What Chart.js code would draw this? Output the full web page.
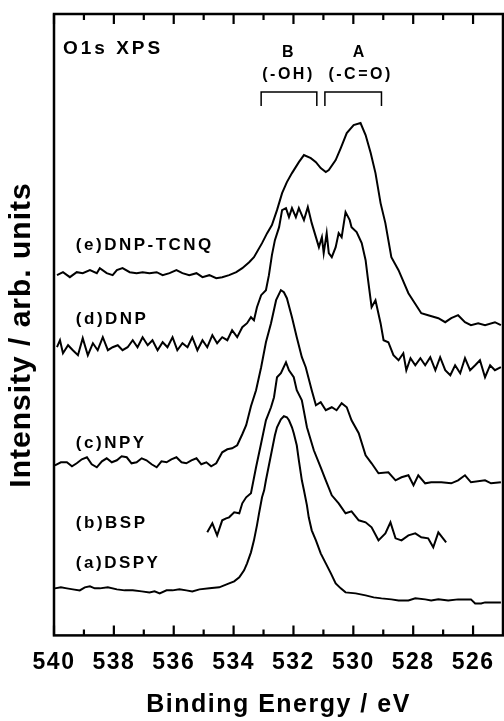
<!DOCTYPE html>
<html><head><meta charset="utf-8">
<script src="https://cdn.jsdelivr.net/npm/chart.js@4.4.0/dist/chart.umd.min.js"></script>
<style>html,body{margin:0;padding:0;background:#fff}canvas{display:block}</style>
</head><body>
<canvas id="c" width="504" height="721"></canvas>
<script>
// ---- data (binding energy in eV, intensity in arbitrary units) ----
const eE = [539.90,539.70,539.47,539.24,539.04,538.80,538.57,538.47,538.24,538.04,537.90,537.71,537.47,537.24,537.04,536.81,536.57,536.37,536.14,535.91,535.71,535.48,535.24,535.04,534.81,534.58,534.38,534.15,533.91,533.71,533.48,533.32,533.05,532.88,532.72,532.55,532.38,532.22,532.05,531.82,531.65,531.42,531.25,531.09,530.92,530.82,530.59,530.42,530.22,529.99,529.76,529.59,529.42,529.26,529.09,528.93,528.73,528.49,528.16,527.73,527.50,527.16,526.93,526.73,526.50,526.27,526.07,525.83,525.60,525.27,525.07];
const iE = [360,363,358,363,362,365,362,367,362,360,365,367,363,362,363,362,363,360,362,365,362,360,362,358,360,357,358,360,363,367,373,378,392,402,410,425,442,453,462,473,480,477,473,467,463,465,475,487,502,510,512,500,482,462,432,412,378,365,342,322,320,317,313,317,320,313,310,312,310,313,310];

const eD = [539.90,539.80,539.70,539.53,539.37,539.20,539.04,538.87,538.70,538.54,538.37,538.20,538.04,537.87,537.71,537.54,537.37,537.21,537.04,536.87,536.71,536.54,536.37,536.21,536.04,535.88,535.71,535.54,535.38,535.21,535.04,534.88,534.71,534.55,534.38,534.21,534.05,533.88,533.71,533.55,533.42,533.32,533.22,533.08,532.92,532.82,532.72,532.62,532.48,532.38,532.25,532.15,532.05,531.92,531.82,531.65,531.52,531.39,531.25,531.15,531.05,530.99,530.89,530.82,530.72,530.59,530.49,530.39,530.26,530.12,530.06,529.89,529.72,529.59,529.52,529.39,529.26,529.09,528.99,528.83,528.66,528.49,528.33,528.23,528.09,527.93,527.76,527.60,527.43,527.26,527.10,526.93,526.76,526.60,526.43,526.27,526.10,525.93,525.77,525.60,525.43,525.27,525.07];
const iD = [288,295,282,290,285,280,297,280,292,285,298,285,288,290,285,288,295,288,298,290,295,285,293,288,298,285,292,288,298,285,295,288,300,292,298,295,305,298,308,312,318,315,328,340,345,360,380,395,408,425,427,418,427,418,427,415,428,412,398,388,398,382,402,382,378,388,402,398,423,415,408,403,392,375,358,328,335,312,295,293,280,275,282,265,277,270,277,270,278,265,278,265,260,270,262,277,265,270,275,258,270,265,268];

const eC = [539.97,539.77,539.57,539.40,539.24,539.07,538.90,538.74,538.57,538.40,538.24,538.07,537.90,537.74,537.57,537.41,537.24,537.07,536.91,536.74,536.57,536.41,536.24,536.08,535.91,535.74,535.58,535.41,535.24,535.08,534.91,534.75,534.58,534.38,534.21,534.05,533.88,533.71,533.58,533.42,533.25,533.08,532.92,532.75,532.58,532.42,532.32,532.22,532.05,531.89,531.72,531.59,531.39,531.25,531.09,530.92,530.72,530.56,530.39,530.22,530.06,529.82,529.59,529.39,529.16,528.83,528.59,528.39,528.16,527.99,527.83,527.60,527.40,527.06,526.73,526.50,526.27,526.07,525.60,525.40,525.07];
const iC = [170,173,173,169,172,176,178,171,168,174,177,173,175,179,178,172,173,177,175,171,168,174,173,176,178,173,172,175,177,171,173,169,172,183,186,187,190,201,210,229,245,268,293,312,335,345,343,337,318,298,278,268,245,230,233,225,228,225,232,228,215,202,180,172,162,163,155,158,160,150,160,152,153,153,152,155,160,153,155,152,153];

const eB = [534.88,534.71,534.55,534.38,534.25,534.15,533.98,533.81,533.71,533.58,533.42,533.25,533.08,532.92,532.75,532.65,532.55,532.42,532.25,532.15,531.99,531.89,531.72,531.55,531.32,531.09,530.92,530.72,530.49,530.26,530.06,529.82,529.59,529.39,529.16,528.93,528.76,528.59,528.39,528.16,527.93,527.73,527.50,527.33,527.16,527.03,526.90];
const iB = [103,112,100,115,117,118,123,122,132,138,142,168,192,215,228,238,258,262,273,265,258,245,235,208,185,168,155,140,132,122,124,115,113,108,95,102,113,97,95,100,102,98,97,88,103,98,93];

const eA = [539.97,539.77,539.57,539.37,539.14,538.97,538.80,538.64,538.47,538.20,537.90,537.64,537.37,537.07,536.81,536.64,536.47,536.24,536.04,535.81,535.58,535.38,535.14,534.81,534.48,534.15,533.98,533.81,533.65,533.55,533.42,533.32,533.22,533.15,533.05,532.98,532.92,532.82,532.72,532.62,532.55,532.42,532.32,532.22,532.15,532.05,531.99,531.89,531.82,531.72,531.65,531.55,531.49,531.39,531.25,531.09,530.92,530.75,530.59,530.42,530.26,529.92,529.59,529.32,529.06,528.73,528.49,528.16,527.93,527.60,527.40,527.16,526.83,526.50,526.27,526.07,525.93,525.73,525.60,525.40,525.07];
const iA = [47,48,47,46,45,48,49,47,47,48,46,45,45,44,43,44,42,45,45,46,45,44,46,47,48,52,54,58,65,72,83,95,110,122,138,145,155,170,185,200,208,216,219,218,215,208,202,190,175,155,145,130,118,105,95,82,72,62,52,47,43,42,40,38,37,36,35,35,37,36,35,36,35,36,36,36,32,32,33,33,33];

const seriesNames = ['(e)DNP-TCNQ','(d)DNP','(c)NPY','(b)BSP','(a)DSPY'];
const majorTicks = [526,528,530,532,534,536,538,540];
const minorTicks = [527,529,531,533,535,537,539];

// ---- annotation texts (positions in data units) ----
const seriesLabels = [
  {t:'(e)DNP-TCNQ', x:539.27, y:390},
  {t:'(d)DNP', x:539.27, y:316},
  {t:'(c)NPY', x:539.27, y:192},
  {t:'(b)BSP', x:539.27, y:112},
  {t:'(a)DSPY', x:539.27, y:72}
];
const peakLabels = [
  {t:'B', x:532.18, y:582}, {t:'(-OH)', x:532.20, y:560},
  {t:'A', x:529.82, y:582}, {t:'(-C=O)', x:529.79, y:560}
];
const brackets = [[533.08,531.22],[530.95,529.06]];

const FONT = "'Liberation Sans', Arial, Helvetica, sans-serif";
const mk = (xs, ys) => xs.map((v, i) => ({x: v, y: ys[i]}));
const allX = [eE, eD, eC, eB, eA];
const allY = [iE, iD, iC, iB, iA];

const deco = {
  id: 'deco',
  beforeDraw(chart) { chart.ctx.letterSpacing = '1.5px'; },
  afterDraw(chart) {
    const {ctx, chartArea: a, scales: {x, y}} = chart;
    ctx.save();
    ctx.strokeStyle = '#000';
    ctx.fillStyle = '#000';
    ctx.lineWidth = 2.5;
    ctx.strokeRect(a.left, a.top, a.right - a.left, a.bottom - a.top);
    ctx.lineWidth = 2.2;
    ctx.beginPath();
    for (const v of majorTicks) {
      const px = x.getPixelForValue(v);
      ctx.moveTo(px, a.bottom); ctx.lineTo(px, a.bottom - 10);
      ctx.moveTo(px, a.top); ctx.lineTo(px, a.top + 10);
    }
    for (const v of minorTicks) {
      const px = x.getPixelForValue(v);
      ctx.moveTo(px, a.bottom); ctx.lineTo(px, a.bottom - 6);
      ctx.moveTo(px, a.top); ctx.lineTo(px, a.top + 6);
    }
    ctx.stroke();

    // brackets
    ctx.lineWidth = 1.5;
    ctx.beginPath();
    for (const [e1, e2] of brackets) {
      const x1 = x.getPixelForValue(e1), x2 = x.getPixelForValue(e2);
      const yt = y.getPixelForValue(543), yb = y.getPixelForValue(529);
      ctx.moveTo(x1, yb); ctx.lineTo(x1, yt); ctx.lineTo(x2, yt); ctx.lineTo(x2, yb);
    }
    ctx.stroke();

    ctx.textBaseline = 'middle';
    // panel title
    ctx.font = 'bold 19px ' + FONT;
    ctx.letterSpacing = '3px';
    ctx.textAlign = 'left';
    ctx.fillText('O1s XPS', x.getPixelForValue(539.7), y.getPixelForValue(586));

    // peak labels
    ctx.font = 'bold 16px ' + FONT;
    ctx.letterSpacing = '2.5px';
    ctx.textAlign = 'center';
    for (const p of peakLabels) ctx.fillText(p.t, x.getPixelForValue(p.x) + 1, y.getPixelForValue(p.y));

    // series labels
    ctx.font = 'bold 17px ' + FONT;
    ctx.letterSpacing = '2.5px';
    ctx.textAlign = 'left';
    for (const s of seriesLabels) ctx.fillText(s.t, x.getPixelForValue(s.x), y.getPixelForValue(s.y));

    // y axis title
    ctx.font = 'bold 30px ' + FONT;
    ctx.letterSpacing = '1px';
    ctx.textAlign = 'center';
    ctx.translate(22, 335);
    ctx.rotate(-Math.PI / 2);
    ctx.fillText('Intensity / arb. units', 0, 0);
    ctx.restore();
  }
};

new Chart(document.getElementById('c'), {
  type: 'line',
  data: {
    datasets: seriesNames.map((n, i) => ({
      label: n,
      data: mk(allX[i], allY[i]),
      borderColor: '#000',
      borderWidth: 2,
      pointRadius: 0,
      tension: 0,
      fill: false
    }))
  },
  options: {
    responsive: false,
    animation: false,
    devicePixelRatio: 1,
    layout: {padding: {left: 54, right: 1, top: 14, bottom: 0}},
    plugins: {legend: {display: false}, tooltip: {enabled: false}},
    scales: {
      x: {
        type: 'linear',
        reverse: true,
        min: 525, max: 540,
        afterBuildTicks: s => { s.ticks = majorTicks.map(v => ({value: v})); },
        grid: {display: false, drawTicks: false},
        border: {display: false},
        ticks: {color: '#000', padding: 13, maxRotation: 0, autoSkip: false,
          font: {family: FONT, size: 23, weight: 'bold'}},
        title: {display: true, text: 'Binding Energy / eV', color: '#000',
          font: {family: FONT, size: 25, weight: 'bold'}, padding: {top: 1, bottom: 1}}
      },
      y: {
        type: 'linear',
        display: false,
        min: 0, max: 621
      }
    }
  },
  plugins: [deco]
});
</script>
</body></html>
